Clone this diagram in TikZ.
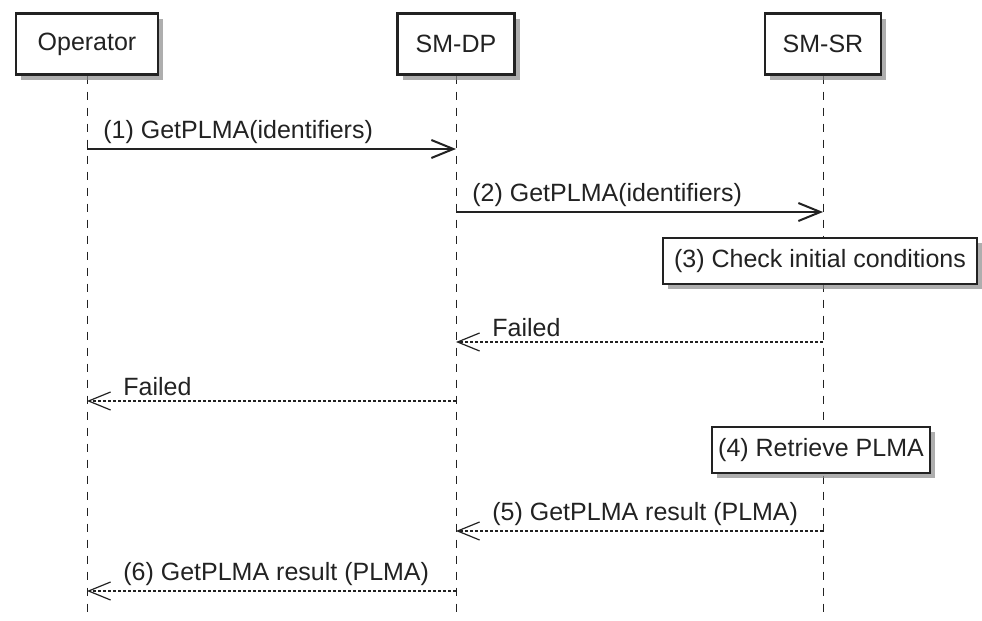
\documentclass[tikz,border=0pt]{standalone}
\usepackage{fontspec}
\setmainfont{Liberation Sans}
\usetikzlibrary{arrows.meta, positioning, shadows, backgrounds}
\definecolor{ink}{HTML}{222222}
\definecolor{shade}{HTML}{8C8C8C}

\begin{document}
\begin{tikzpicture}[
    x=0.5pt, y=-0.5pt,
    actor/.style={rectangle, draw=ink, line width=1.2pt, fill=white,
                  minimum height=30.5pt, inner sep=0pt,
                  font=\fontsize{12.5}{15}\selectfont, text=ink,
                  drop shadow={shadow xshift=2.5pt, shadow yshift=-2.5pt,
                               fill=shade, opacity=0.7}},
    note/.style={rectangle, draw=ink, line width=0.7pt, fill=white,
                 minimum height=23pt, inner xsep=3pt, inner ysep=0pt,
                 font=\fontsize{12.5}{15}\selectfont, text=ink,
                 drop shadow={shadow xshift=2.5pt, shadow yshift=-2.5pt,
                              fill=shade, opacity=0.7}},
    life/.style={draw=ink, line width=0.5pt, dash pattern=on 4pt off 4pt},
    msg/.style={-{Straight Barb[length=11pt, width=9pt]}, line width=1pt, draw=ink},
    reply/.style={-{Straight Barb[length=11pt, width=9pt]}, line width=0.6pt,
                  draw=ink, dash pattern=on 1.5pt off 1pt},
    lbl/.style={inner sep=0pt, font=\fontsize{12.5}{15}\selectfont, text=ink},
  ]
    \useasboundingbox (0,0) rectangle (982,621);

    % Participants
    \node[actor, minimum width=71pt]   (op) at (87,44)  {Operator};
    \node[actor, minimum width=58.5pt] (dp) at (456,44) {SM-DP};
    \node[actor, minimum width=58pt]   (sr) at (823,44) {SM-SR};

    % Lifelines
    \foreach \p in {op, dp, sr} {
      \coordinate (\p end) at (\p |- 0,615);
      \begin{scope}[on background layer]
        \draw[life] (\p) -- (\p end);
      \end{scope}
    }

    % Message rows
    \foreach \n/\y in {1/149, 2/212, 3/342, 4/401, 5/531, 6/591} {
      \coordinate (op\n) at (op |- 0,\y);
      \coordinate (dp\n) at (dp |- 0,\y);
      \coordinate (sr\n) at (sr |- 0,\y);
    }

    \draw[msg] (op1) -- (dp1);
    \node[lbl, above right=2.5pt and 8pt of op1] (l1) {(1) GetPLMA(identifiers)};

    \draw[msg] (dp2) -- (sr2);
    \node[lbl, above right=2.5pt and 8pt of dp2] (l2) {(2) GetPLMA(identifiers)};

    \node[note, minimum width=157pt] (n3) at (820,261) {(3) Check initial conditions};

    \draw[reply] (sr3) -- (dp3);
    \node[lbl, above right=2.5pt and 18pt of dp3] (l3) {Failed};

    \draw[reply] (dp4) -- (op4);
    \node[lbl, above right=2.5pt and 18pt of op4] (l4) {Failed};

    \node[note, minimum width=109pt] (n4) at (821,450) {(4) Retrieve PLMA};

    \draw[reply] (sr5) -- (dp5);
    \node[lbl, above right=2.5pt and 18pt of dp5] (l5) {(5) GetPLMA result (PLMA)};

    \draw[reply] (dp6) -- (op6);
    \node[lbl, above right=2.5pt and 18pt of op6] (l6) {(6) GetPLMA result (PLMA)};
  \end{tikzpicture}
\end{document}
